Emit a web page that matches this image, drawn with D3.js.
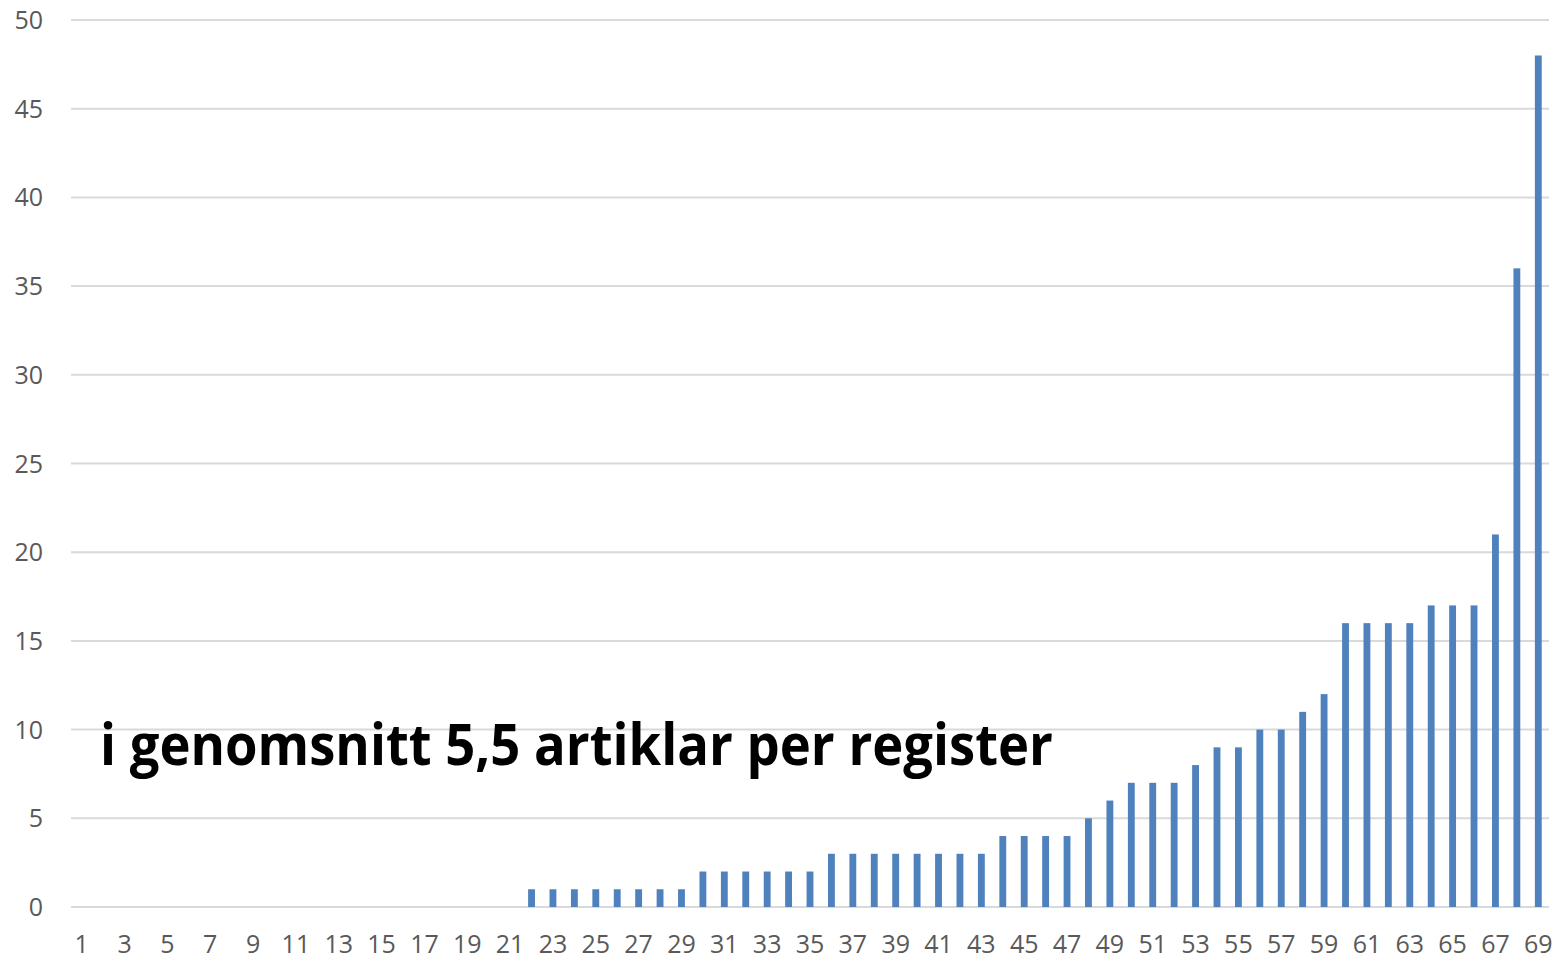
<!DOCTYPE html>
<html>
<head>
<meta charset="utf-8">
<script src="https://cdn.jsdelivr.net/npm/d3@7"></script>
<style>
  html, body { margin: 0; padding: 0; background: #fff; }
  svg { display: block; font-family: "Open Sans", "Noto Sans", sans-serif; }
</style>
</head>
<body>
<div id="chart"></div>
<script>
// antal artiklar per register, sorterat (register 1..69)
const registers = d3.range(1, 70);
const articles = [
  0,0,0,0,0,0,0,0,0,0, 0,0,0,0,0,0,0,0,0,0,
  0,1,1,1,1,1,1,1,1,2, 2,2,2,2,2,3,3,3,3,3,
  3,3,3,4,4,4,4,5,6,7, 7,7,8,9,9,10,10,11,12,16,
  16,16,16,17,17,17,21,36,48
];
const yTicks = [0, 5, 10, 15, 20, 25, 30, 35, 40, 45, 50];
const xTickLabels = registers.filter(d => d % 2 === 1);
const note = "i genomsnitt 5,5 artiklar per register";

const width = 1565, height = 959;
const margin = {left: 71, right: 16, top: 20, bottom: 52};

const svg = d3.select("#chart").append("svg")
    .attr("width", width)
    .attr("height", height);

const scx = d3.scaleBand(registers, [margin.left, width - margin.right])
    .paddingInner(0.68)
    .paddingOuter(0.34);
const scy = d3.scaleLinear([0, 50], [height - margin.bottom, margin.top]);

// rutnät
svg.append("g")
    .selectAll("line")
    .data(yTicks)
    .join("line")
    .attr("x1", margin.left)
    .attr("x2", width - margin.right)
    .attr("y1", d => scy(d))
    .attr("y2", d => scy(d))
    .attr("stroke", "#d9d9d9")
    .attr("stroke-width", 2);

// y-etiketter
svg.append("g")
    .selectAll("text")
    .data(yTicks)
    .join("text")
    .attr("x", 43)
    .attr("y", d => scy(d))
    .attr("dy", "0.36em")
    .attr("text-anchor", "end")
    .attr("fill", "#595959")
    .attr("font-size", 25)
    .text(d => d);

// staplar
svg.append("g")
    .selectAll("rect")
    .data(articles)
    .join("rect")
    .attr("x", (d, i) => scx(registers[i]))
    .attr("y", d => scy(d))
    .attr("width", scx.bandwidth())
    .attr("height", d => scy(0) - scy(d))
    .attr("fill", "#4f81bd");

// x-etiketter
svg.append("g")
    .selectAll("text")
    .data(xTickLabels)
    .join("text")
    .attr("x", d => scx(d) + scx.bandwidth() / 2)
    .attr("y", 953)
    .attr("text-anchor", "middle")
    .attr("fill", "#595959")
    .attr("font-size", 25)
    .text(d => d);

// kommentar
svg.append("text")
    .attr("x", 100)
    .attr("y", 765)
    .attr("font-size", 58)
    .attr("font-weight", "bold")
    .attr("fill", "#000")
    .attr("textLength", 953)
    .attr("lengthAdjust", "spacingAndGlyphs")
    .text(note);
</script>
</body>
</html>
